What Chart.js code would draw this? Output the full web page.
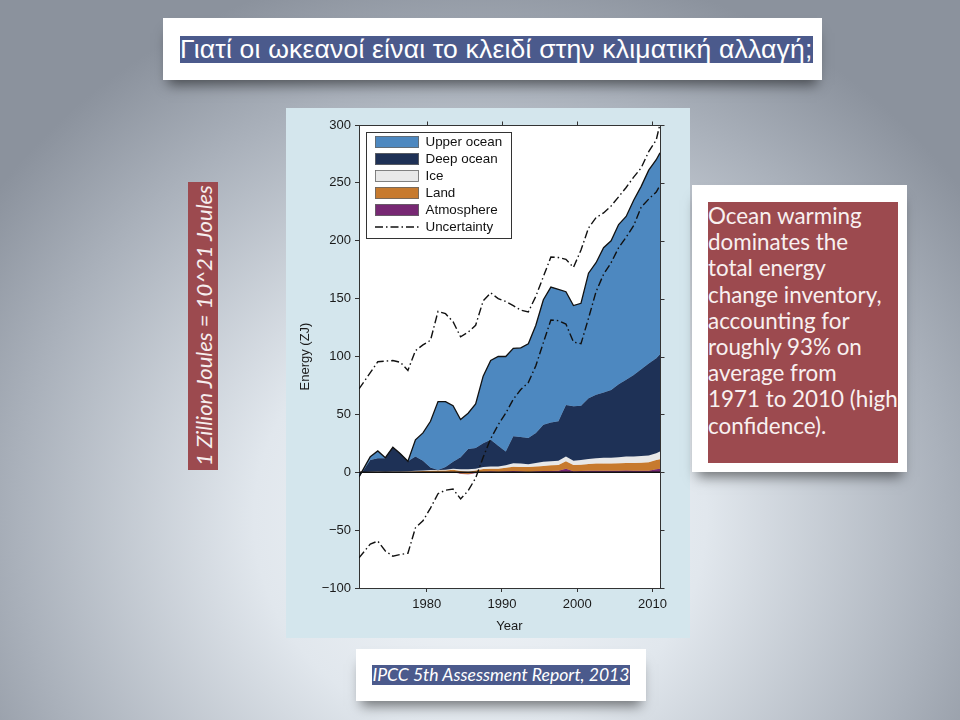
<!DOCTYPE html>
<html>
<head>
<meta charset="utf-8">
<title>Energy inventory</title>
<script src="https://cdn.jsdelivr.net/npm/chart.js@4.4.1/dist/chart.umd.min.js"></script>
<style>
  html, body { margin: 0; padding: 0; }
  body {
    width: 960px; height: 720px; position: relative; overflow: hidden;
    background: radial-gradient(ellipse 62% 78% at 50% 72%, #f4f7fa 0%, #e1e7ed 38%, #aab1bb 78%, #8b929d 100%);
    font-family: "Liberation Sans", Arial, sans-serif;
  }
  .box { position: absolute; background: #fff; box-shadow: 0 10px 12px -5px rgba(0,0,0,0.5); }
  .hl { background: #4b5a8c; color: #fff; }
  #title { left: 163px; top: 18px; width: 659px; height: 62px; display: flex; align-items: center; padding-left: 17px; box-sizing: border-box; }
  #title span { font-size: 26.5px; line-height: 27px; letter-spacing: 0.2px; white-space: nowrap; }
  #panel { position: absolute; left: 286px; top: 108px; width: 404px; height: 530px; background: #d4e6ed; }
  #panel canvas { display: block; }
  #units { position: absolute; left: 188px; top: 182px; width: 30px; height: 288px; background: #9c4a4f;
    color: #f6eeee; font-family: Lato, "Open Sans", sans-serif; font-style: italic; font-size: 22px;
    writing-mode: vertical-rl; transform: rotate(180deg); display: flex; align-items: center; justify-content: center; white-space: nowrap; }
  #note { left: 692px; top: 185px; width: 215px; height: 287px; }
  #note div { position: absolute; left: 16px; top: 17px; width: 190px; height: 261px; background: #9c4a4f;
    color: #f8f0f0; font-family: Lato, "Open Sans", sans-serif; font-size: 22.4px; line-height: 26.2px; white-space: nowrap; padding-top: 1px; box-sizing: border-box; }
  #source { left: 356px; top: 649px; width: 290px; height: 52px; display: flex; align-items: center; justify-content: center; }
  #source span { font-family: Lato, "Open Sans", sans-serif; font-style: italic; font-size: 17.6px; line-height: 20px; white-space: nowrap; }
</style>
</head>
<body>
<div id="title" class="box"><span class="hl">Γιατί οι ωκεανοί είναι το κλειδί στην κλιματική αλλαγή;</span></div>
<div id="units">1 Zillion Joules = 10^21 Joules</div>
<div id="panel"><canvas id="energyChart" width="404" height="530"></canvas></div>
<div id="note" class="box"><div>Ocean warming<br>dominates the<br>total energy<br>change inventory,<br>accounting for<br>roughly 93% on<br>average from<br>1971 to 2010 (high<br>confidence).</div></div>
<div id="source" class="box"><span class="hl">IPCC 5th Assessment Report, 2013</span></div>
<script>
// years of each reading (first and last sit on the plot edges)
const years = [1971, 1972.5, 1973.5, 1974.5, 1975.5, 1976.5, 1977.5, 1978.5, 1979.5, 1980.5,
  1981.5, 1982.5, 1983.5, 1984.5, 1985.5, 1986.5, 1987.5, 1988.5, 1989.5, 1990.5,
  1991.5, 1992.5, 1993.5, 1994.5, 1995.5, 1996.5, 1997.5, 1998.5, 1999.5, 2000.5,
  2001.5, 2002.5, 2003.5, 2004.5, 2005.5, 2006.5, 2007.5, 2008.5, 2009.5, 2010.5, 2011];

// top edge of each stacked band (ZJ)
const upperOceanTop = [-4, 13.5, 18.4, 12.6, 21.6, 16, 9.5, 28, 34, 44,
  61, 61, 57.5, 45.5, 51, 59, 83, 96.5, 100, 100,
  107, 107.5, 111, 127, 149, 160, 158, 156, 144, 146,
  172, 181, 194, 200, 214, 221, 235, 247, 261, 270, 276];
const deepOceanTop = [-4, 10.5, 12, 12, 21.6, 16, 9.5, 13.5, 10, 4,
  2, 4.5, 9, 13, 20, 21, 25, 28, 23, 18,
  31, 30.5, 29.5, 34, 41, 43, 44, 58, 57, 57.5,
  64, 67, 69, 71, 76, 80, 84, 89, 94, 98.5, 102];
const iceTop = [0, 0.5, 0.6, 0.5, 0.6, 0.7, 0.8, 1.2, 1.5, 2,
  2, 2.2, 3, 2.5, 2.5, 3, 4.5, 5, 5, 6,
  7.8, 7.5, 7, 8, 9, 9.5, 10, 13.5, 10, 10.5,
  11.5, 12, 12.5, 12.5, 13, 13.5, 13.5, 14, 14.5, 16.5, 18];
const landTop = [0, 0.3, 0.4, 0.4, 0.4, 0.5, 0.6, 0.8, 1, 1.4,
  1.5, 1.6, 2.2, 1, 0.5, 1.5, 2.8, 3, 3, 3.8,
  4.8, 4.5, 4.5, 5, 5.5, 6, 6.3, 9.5, 6.3, 6.5,
  7.2, 7.5, 7.5, 7.5, 7.8, 8, 8, 8.2, 8.6, 10.5, 11.2];
const atmosphereTop = [0, 0.1, 0.1, 0.1, 0.1, 0.1, 0.1, 0.2, 0.2, 0.3,
  0.3, 0.3, 0.5, -1, -1.5, -0.5, 0.5, 0.8, 0.5, 0.8,
  1, 0.8, 0.3, 0.8, 1, 1, 1.2, 3, 0.8, 1,
  1.2, 1.3, 1.2, 1.2, 1.3, 1.5, 1.3, 1.2, 1.2, 2.5, 3];

// uncertainty envelope (ZJ)
const uncertaintyHigh = [72, 86, 95.5, 96, 96.5, 95, 88, 105, 110, 114,
  139, 137, 130, 117, 121, 127, 148, 155, 150, 147.5,
  144, 140, 138.5, 152, 169, 186, 185.5, 184, 177, 192,
  211, 220, 224, 230, 238, 246, 255, 263, 277, 287, 301];
const uncertaintyLow = [-74, -62, -59.5, -68, -72.5, -71, -70, -48, -42, -31,
  -18.5, -15.5, -14.5, -23, -16, -5, 13, 29, 41, 51,
  63, 71.5, 77.5, 92, 112, 131.5, 131, 128, 112.5, 111,
  133, 156, 171, 181, 194, 203, 213, 229, 236, 242, 248];

const yearTicks = [1980, 1990, 2000, 2010];

const dashDot = [8, 3, 1.5, 3];
const toPoints = vals => vals.map((v, i) => ({ x: years[i], y: v }));

Chart.defaults.font.family = '"Liberation Sans", Arial, Helvetica, sans-serif';
Chart.defaults.font.size = 13;
Chart.defaults.color = '#1a1a1a';

function band(label, vals, color) {
  return {
    label, data: toPoints(vals), backgroundColor: color, borderColor: color,
    borderWidth: 0.6, fill: '+1', pointRadius: 0, tension: 0, order: 1
  };
}

const datasets = [
  Object.assign(band('Upper ocean', upperOceanTop, '#4d88c0'), { borderColor: '#111', borderWidth: 1.3 }),
  band('Deep ocean', deepOceanTop, '#1e3156'),
  band('Ice', iceTop, '#e8e8e8'),
  band('Land', landTop, '#c77a2e'),
  Object.assign(band('Atmosphere', atmosphereTop, '#772873'), { fill: 'origin' }),
  {
    label: 'Uncertainty', data: toPoints(uncertaintyHigh), borderColor: '#111', borderWidth: 1.4,
    borderDash: dashDot, fill: false, pointRadius: 0, order: 0, showInKey: true
  },
  {
    label: 'Uncertainty low', data: toPoints(uncertaintyLow), borderColor: '#111', borderWidth: 1.4,
    borderDash: dashDot, fill: false, pointRadius: 0, order: 0, showInKey: false
  }
];

const line = (ctx, x1, y1, x2, y2) => { ctx.beginPath(); ctx.moveTo(x1, y1); ctx.lineTo(x2, y2); ctx.stroke(); };

// panel + white plot area, framed key inside the plot, zero line, mirrored top/right ticks
const plotFrame = {
  id: 'plotFrame',
  beforeDraw(chart) {
    const { ctx, chartArea: a, width, height } = chart;
    ctx.save();
    ctx.fillStyle = '#d4e6ed';
    ctx.fillRect(0, 0, width, height);
    ctx.fillStyle = '#fff';
    ctx.fillRect(a.left, a.top, a.right - a.left, a.bottom - a.top);
    ctx.restore();
  },
  beforeDatasetsDraw(chart) {
    const { ctx, chartArea: a } = chart;
    const items = chart.data.datasets.filter(d => d.showInKey !== false);
    const boxX = a.left + 16, rowY = a.top + 17, step = 17;
    ctx.save();
    ctx.font = '13.4px "Liberation Sans", Arial, sans-serif';
    ctx.textBaseline = 'middle';
    let textRight = 0;
    items.forEach((d, i) => {
      const cy = rowY + i * step;
      if (d.fill) {
        ctx.fillStyle = d.backgroundColor;
        ctx.fillRect(boxX, cy - 6, 44, 12);
        ctx.strokeStyle = '#666';
        ctx.lineWidth = 0.8;
        ctx.strokeRect(boxX + 0.5, cy - 5.5, 43, 11);
      } else {
        ctx.strokeStyle = d.borderColor;
        ctx.lineWidth = d.borderWidth;
        ctx.setLineDash(d.borderDash || []);
        line(ctx, boxX, cy, boxX + 44, cy);
        ctx.setLineDash([]);
      }
      ctx.fillStyle = '#111';
      ctx.fillText(d.label, boxX + 50.5, cy + 0.5);
      textRight = Math.max(textRight, boxX + 50.5 + ctx.measureText(d.label).width);
    });
    const l = Math.round(a.left + 7) + 0.5, t = Math.round(a.top + 7) + 0.5;
    const r = Math.round(textRight + 9) + 0.5, b = Math.round(rowY + (items.length - 1) * step + 11) + 0.5;
    ctx.strokeStyle = '#333';
    ctx.lineWidth = 1;
    ctx.strokeRect(l, t, r - l, b - t);
    ctx.restore();
  },
  afterDatasetsDraw(chart) {
    const { ctx, chartArea: a, scales: { y } } = chart;
    const zero = y.getPixelForValue(0);
    ctx.save();
    ctx.strokeStyle = '#111';
    ctx.lineWidth = 1.3;
    line(ctx, a.left, zero, a.right, zero);
    ctx.restore();
  },
  afterDraw(chart) {
    const { ctx, chartArea: a, scales: { x, y } } = chart;
    const top = Math.round(a.top) + 0.5, right = Math.round(a.right) + 0.5;
    ctx.save();
    ctx.strokeStyle = '#333';
    ctx.lineWidth = 1;
    line(ctx, a.left, top, a.right + 1, top);
    line(ctx, right, a.top, right, a.bottom);
    yearTicks.forEach(v => {
      const px = Math.round(x.getPixelForValue(v)) + 0.5;
      line(ctx, px, top, px, top - 4);
    });
    y.ticks.forEach(t => {
      const py = Math.round(y.getPixelForValue(t.value)) + 0.5;
      line(ctx, right, py, right + 4, py);
    });
    ctx.restore();
  }
};

new Chart(document.getElementById('energyChart'), {
  type: 'line',
  data: { datasets },
  plugins: [plotFrame],
  options: {
    responsive: false,
    animation: false,
    layout: { padding: { top: 17, right: 30 } },
    scales: {
      x: {
        type: 'linear', position: 'bottom', min: 1971, max: 2011,
        afterBuildTicks: axis => { axis.ticks = yearTicks.map(v => ({ value: v })); },
        ticks: { callback: v => String(v), padding: 5, maxRotation: 0, autoSkip: false },
        grid: { drawOnChartArea: false, tickLength: 4, color: '#333' },
        border: { color: '#333', width: 1 },
        title: { display: true, text: 'Year', padding: { top: 0, bottom: 4 } },
        afterFit: s => { s.height = 50; }
      },
      y: {
        min: -100, max: 300,
        ticks: { stepSize: 50, padding: 4, callback: v => (v < 0 ? '\u2212' + Math.abs(v) : String(v)) },
        grid: { drawOnChartArea: false, tickLength: 4, color: '#333' },
        border: { color: '#333', width: 1 },
        title: { display: true, text: 'Energy (ZJ)', padding: { top: 12, bottom: 0 } },
        afterFit: s => { s.width = 73; }
      }
    },
    plugins: {
      tooltip: { enabled: false },
      legend: { display: false }
    }
  }
});
</script>
</body>
</html>
